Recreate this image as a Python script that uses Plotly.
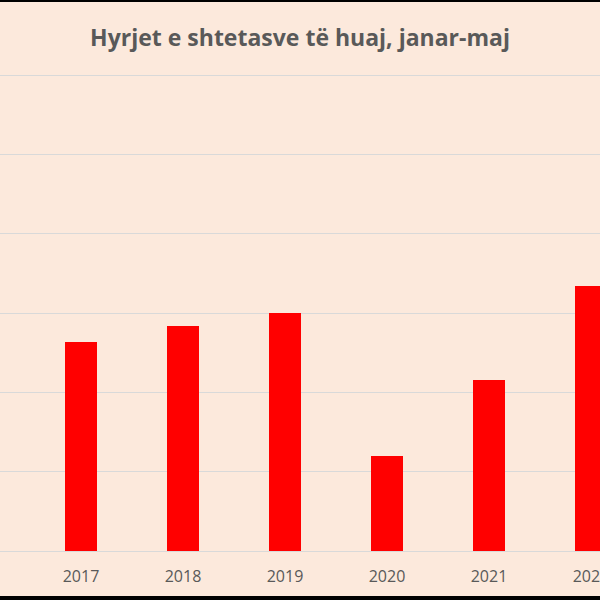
import plotly.graph_objects as go

years = ["2017", "2018", "2019", "2020", "2021", "2022"]
entries = [1320000, 1420000, 1500000, 600000, 1080000, 1670000]
y_ticks = [0, 500000, 1000000, 1500000, 2000000, 2500000, 3000000]

PH = 478  # plot height px
fig = go.Figure()
fig.add_trace(go.Bar(
    x=years, y=entries, marker=dict(color="#FF0000", line=dict(width=0)),
    width=0.314,
))

fig.update_layout(
    width=600, height=600,
    paper_bgcolor="#FCE9DC", plot_bgcolor="#FCE9DC",
    margin=dict(l=0, r=0, t=73, b=49, autoexpand=False),
    showlegend=False,
    title=dict(text="<b>Hyrjet e shtetasve të huaj, janar-maj</b>",
               x=0.5, xanchor="center", y=1 - 38/600, yanchor="middle",
               font=dict(family="Open Sans, sans-serif", size=23, color="#595959")),
    xaxis=dict(type="category", range=[-0.794, 5.088], showgrid=False, automargin=False,
               showline=False, ticks="outside", ticklen=11, tickcolor="rgba(0,0,0,0)",
               tickfont=dict(family="Open Sans, sans-serif", size=16, color="#595959")),
    yaxis=dict(range=[0, 3000000 * 478 / 476], tickvals=y_ticks, showticklabels=False,
               showgrid=True, gridcolor="#D9D9D9", gridwidth=1,
               zeroline=True, zerolinecolor="#D9D9D9", zerolinewidth=1,
               showline=False, automargin=False),
    bargap=0,
    shapes=[
        dict(type="rect", xref="paper", yref="paper", x0=-0.01, x1=1.01,
             y0=1 + 71/PH, y1=1 + 80/PH, fillcolor="black", line=dict(width=0), layer="above"),
        dict(type="rect", xref="paper", yref="paper", x0=-0.01, x1=1.01,
             y0=-56/PH, y1=-45/PH, fillcolor="black", line=dict(width=0), layer="above"),
    ],
)

fig.write_html("out.html")
